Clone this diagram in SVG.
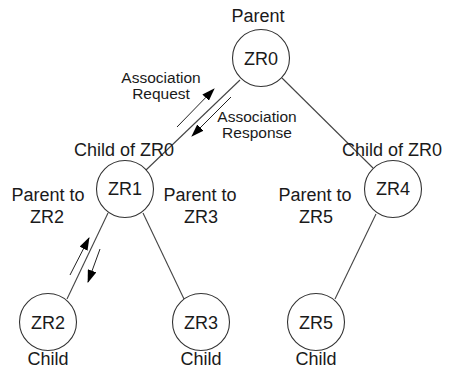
<svg xmlns="http://www.w3.org/2000/svg" width="450" height="370" viewBox="0 0 450 370">
<style>
text{font-family:"Liberation Sans",Arial,sans-serif;fill:#1a1a1a;text-anchor:middle}
.big{font-size:18px}
.sm{font-size:15.5px}
circle{fill:#fff;stroke:#333;stroke-width:1.1}
.ln{stroke:#444;stroke-width:1.1;fill:none}
.ar{stroke:#222;stroke-width:1;fill:none;marker-end:url(#ah)}
</style>
<defs>
<marker id="ah" viewBox="0 0 13 9" refX="12" refY="4.5" markerWidth="13" markerHeight="9" markerUnits="userSpaceOnUse" orient="auto">
<path d="M0,0 L13,4.5 L0,9 Z" fill="#000"/>
</marker>
</defs>
<g id="connectors">
<line class="ln" x1="240" y1="80" x2="146" y2="170"/>
<line class="ln" x1="282" y1="78" x2="373" y2="168"/>
<line class="ln" x1="108" y1="213" x2="67" y2="299"/>
<line class="ln" x1="143" y1="213" x2="184" y2="299"/>
<line class="ln" x1="376" y1="214" x2="335" y2="299"/>
<line class="ar" x1="177" y1="127" x2="214" y2="89"/>
<line class="ar" x1="231" y1="97" x2="192" y2="136"/>
<line class="ar" x1="70" y1="275" x2="89" y2="238"/>
<line class="ar" x1="100" y1="249" x2="88" y2="282"/>
<text class="sm" x="161" y="83">Association</text>
<text class="sm" x="161" y="99">Request</text>
<text class="sm" x="257" y="122">Association</text>
<text class="sm" x="257" y="138">Response</text>
</g>
<g id="ZR0">
<text class="big" x="258" y="22">Parent</text>
<circle cx="261" cy="58" r="28.5"/>
<text class="big" x="261" y="65">ZR0</text>
</g>
<g id="ZR1">
<text class="big" x="124" y="156">Child of ZR0</text>
<circle cx="125" cy="189" r="28.5"/>
<text class="big" x="125" y="195">ZR1</text>
<text class="big" x="48" y="201">Parent to</text>
<text class="big" x="47" y="223">ZR2</text>
<text class="big" x="200" y="201">Parent to</text>
<text class="big" x="201" y="223">ZR3</text>
</g>
<g id="ZR4">
<text class="big" x="392" y="156">Child of ZR0</text>
<circle cx="393" cy="189" r="28.5"/>
<text class="big" x="393" y="195">ZR4</text>
<text class="big" x="315" y="201">Parent to</text>
<text class="big" x="316" y="223">ZR5</text>
</g>
<g id="ZR2">
<circle cx="48" cy="322" r="28.5"/>
<text class="big" x="48" y="329">ZR2</text>
<text class="big" x="48" y="365">Child</text>
</g>
<g id="ZR3">
<circle cx="201" cy="322" r="28.5"/>
<text class="big" x="201" y="329">ZR3</text>
<text class="big" x="201" y="365">Child</text>
</g>
<g id="ZR5">
<circle cx="316" cy="322" r="28.5"/>
<text class="big" x="316" y="329">ZR5</text>
<text class="big" x="316" y="365">Child</text>
</g>
</svg>
